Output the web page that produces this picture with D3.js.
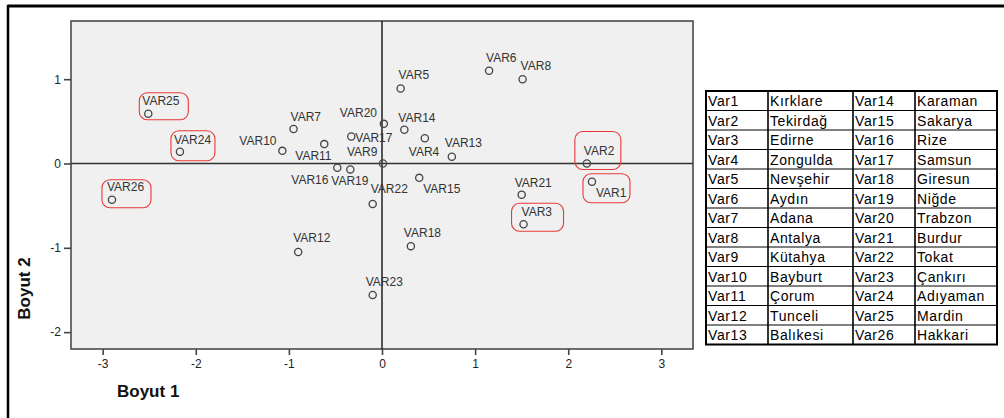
<!DOCTYPE html>
<html><head><meta charset="utf-8">
<script src="https://cdn.jsdelivr.net/npm/d3@7"></script>
<style>
html,body{margin:0;padding:0;background:#fff;}
svg{display:block;font-family:"Liberation Sans",Arial,sans-serif;}
</style></head>
<body>
<svg id="c" width="1004" height="418"></svg>
<script>
// ---- data ----
const labels = ["VAR1","VAR2","VAR3","VAR4","VAR5","VAR6","VAR7","VAR8","VAR9","VAR10","VAR11","VAR12","VAR13","VAR14","VAR15","VAR16","VAR17","VAR18","VAR19","VAR20","VAR21","VAR22","VAR23","VAR24","VAR25","VAR26"];
const dim1 = [2.255,2.20,1.52,0.46,0.20,1.15,-0.95,1.51,0.01,-1.07,-0.62,-0.90,0.75,0.24,0.40,-0.48,-0.33,0.31,-0.34,0.02,1.50,-0.10,-0.10,-2.17,-2.51,-2.90];
const dim2 = [-0.217,0.00,-0.72,0.30,0.89,1.10,0.41,1.00,0.00,0.15,0.23,-1.05,0.08,0.40,-0.17,-0.05,0.32,-0.98,-0.07,0.47,-0.37,-0.48,-1.56,0.14,0.59,-0.43];
const xTicks = [-3,-2,-1,0,1,2,3];
const yTicks = [-2,-1,0,1];
const highlighted = ["VAR25","VAR24","VAR26","VAR2","VAR1","VAR3"];
const tableCodesA = ["Var1","Var2","Var3","Var4","Var5","Var6","Var7","Var8","Var9","Var10","Var11","Var12","Var13"];
const tableNamesA = ["Kırklare","Tekirdağ","Edirne","Zongulda","Nevşehir","Aydın","Adana","Antalya","Kütahya","Bayburt","Çorum","Tunceli","Balıkesi"];
const tableCodesB = ["Var14","Var15","Var16","Var17","Var18","Var19","Var20","Var21","Var22","Var23","Var24","Var25","Var26"];
const tableNamesB = ["Karaman","Sakarya","Rize","Samsun","Giresun","Niğde","Trabzon","Burdur","Tokat","Çankırı","Adıyaman","Mardin","Hakkari"];

// ---- layout (label offsets in px, relative to point) ----
const labelOffsets = {
 VAR1:[4,15],VAR2:[-3,-8],VAR3:[-2,-8],VAR4:[-16,18],VAR5:[-2,-9],VAR6:[-3,-9],VAR7:[-3,-8],VAR8:[-2,-9],
 VAR9:[-36,-7],VAR10:[-43,-6],VAR11:[-29,16],VAR12:[-5,-10],VAR13:[-7,-10],VAR14:[-6,-8],VAR15:[4,15],
 VAR16:[-46,16],VAR17:[4,5],VAR18:[-7,-9],VAR19:[-19,16],VAR20:[-44,-7],VAR21:[-7,-8],VAR22:[-2,-11],
 VAR23:[-7,-9],VAR24:[-6,-8],VAR25:[-6,-9],VAR26:[-5,-9]
};
const boxOffsets = {
 VAR25:[-9,-21,49,27],VAR24:[-9,-21,44,30],VAR26:[-10,-20,49,28],
 VAR2:[-12,-32,46,38],VAR1:[-9,-8,47,29],VAR3:[-12,-21,52,28]
};

const svg = d3.select("#c");
// outer frame (top & left visible)
svg.append("line").attr("x1",7.5).attr("y1",6).attr("x2",1004).attr("y2",6).attr("stroke","#000").attr("stroke-width",3);
svg.append("line").attr("x1",8).attr("y1",5).attr("x2",8).attr("y2",418).attr("stroke","#000").attr("stroke-width",2.5);

const L=71,R=693,T=21,B=349;
const x = d3.scaleLinear().domain([-3.34,3.34]).range([L,R]);
const y = d3.scaleLinear().domain([-2.20,1.69]).range([B,T]);

svg.append("rect").attr("x",L).attr("y",T).attr("width",R-L).attr("height",B-T)
  .attr("fill","#f0f0f0").attr("stroke","#4a4a4a").attr("stroke-width",1.6);

// zero reference lines
svg.append("line").attr("x1",x(0)).attr("x2",x(0)).attr("y1",T).attr("y2",B).attr("stroke","#111").attr("stroke-width",1.4);
svg.append("line").attr("x1",L).attr("x2",R).attr("y1",y(0)).attr("y2",y(0)).attr("stroke","#333").attr("stroke-width",1.4);

// axes
const ax = svg.append("g").attr("transform",`translate(0,${B})`)
  .call(d3.axisBottom(x).tickValues(xTicks).tickFormat(d3.format("d")).tickSize(6).tickPadding(4.5));
const ay = svg.append("g").attr("transform",`translate(${L},0)`)
  .call(d3.axisLeft(y).tickValues(yTicks).tickFormat(d3.format("d")).tickSize(7).tickPadding(3));
[ax,ay].forEach(g=>{
  g.select(".domain").remove();
  g.selectAll(".tick line").attr("stroke","#444").attr("stroke-width",1.6);
  g.selectAll(".tick text").attr("fill","#222").style("font-size","12px").style("font-family","Liberation Sans, Arial, sans-serif");
});
ax.selectAll(".tick text").text(d=>d<0?"-"+Math.abs(d):d);
ay.selectAll(".tick text").text(d=>d<0?"-"+Math.abs(d):d);

// points
const pts = labels.map((l,i)=>({l,x:dim1[i],y:dim2[i]}));
const g = svg.append("g");
g.selectAll("circle").data(pts).join("circle")
  .attr("cx",d=>x(d.x)).attr("cy",d=>y(d.y)).attr("r",3.6)
  .attr("fill","none").attr("stroke","#444").attr("stroke-width",1.3);
g.selectAll("text").data(pts).join("text")
  .attr("x",d=>x(d.x)+labelOffsets[d.l][0]).attr("y",d=>y(d.y)+labelOffsets[d.l][1])
  .attr("fill","#333").style("font-size","12px").text(d=>d.l);

// red annotation boxes
svg.append("g").selectAll("rect").data(pts.filter(d=>highlighted.includes(d.l))).join("rect")
  .attr("x",d=>x(d.x)+boxOffsets[d.l][0]).attr("y",d=>y(d.y)+boxOffsets[d.l][1])
  .attr("width",d=>boxOffsets[d.l][2]).attr("height",d=>boxOffsets[d.l][3])
  .attr("rx",8).attr("ry",8).attr("fill","none").attr("stroke","#e8383a").attr("stroke-width",1.1);

// axis titles
svg.append("text").attr("x",117).attr("y",397).style("font-size","17px").style("font-weight","bold").attr("fill","#111").text("Boyut 1");
svg.append("text").attr("transform","translate(30,288.5) rotate(-90)").attr("text-anchor","middle")
  .style("font-size","17px").style("font-weight","bold").attr("fill","#111").text("Boyut 2");

// table
const tX = [706,768,853,915,997];
const tTop = 91, rowH = 19.5, nRows = 13;
const tb = svg.append("g");
const cols = [tableCodesA,tableNamesA,tableCodesB,tableNamesB];
cols.forEach((arr,ci)=>{
  tb.selectAll(null).data(arr).join("text")
    .attr("x",tX[ci]+2).attr("y",(d,i)=>tTop+i*rowH+15)
    .attr("fill","#000").style("font-size","14px").style("letter-spacing","0.6px").text(d=>d);
});
tb.selectAll(null).data(d3.range(1,nRows)).join("line")
  .attr("x1",tX[0]).attr("x2",tX[4]).attr("y1",i=>tTop+i*rowH).attr("y2",i=>tTop+i*rowH)
  .attr("stroke","#000").attr("stroke-width",1);
tb.selectAll(null).data(tX.slice(1,4)).join("line")
  .attr("x1",d=>d).attr("x2",d=>d).attr("y1",tTop).attr("y2",tTop+nRows*rowH)
  .attr("stroke","#000").attr("stroke-width",1.6);
tb.append("rect").attr("x",tX[0]).attr("y",tTop).attr("width",tX[4]-tX[0]).attr("height",nRows*rowH)
  .attr("fill","none").attr("stroke","#000").attr("stroke-width",2);
</script>
</body></html>
